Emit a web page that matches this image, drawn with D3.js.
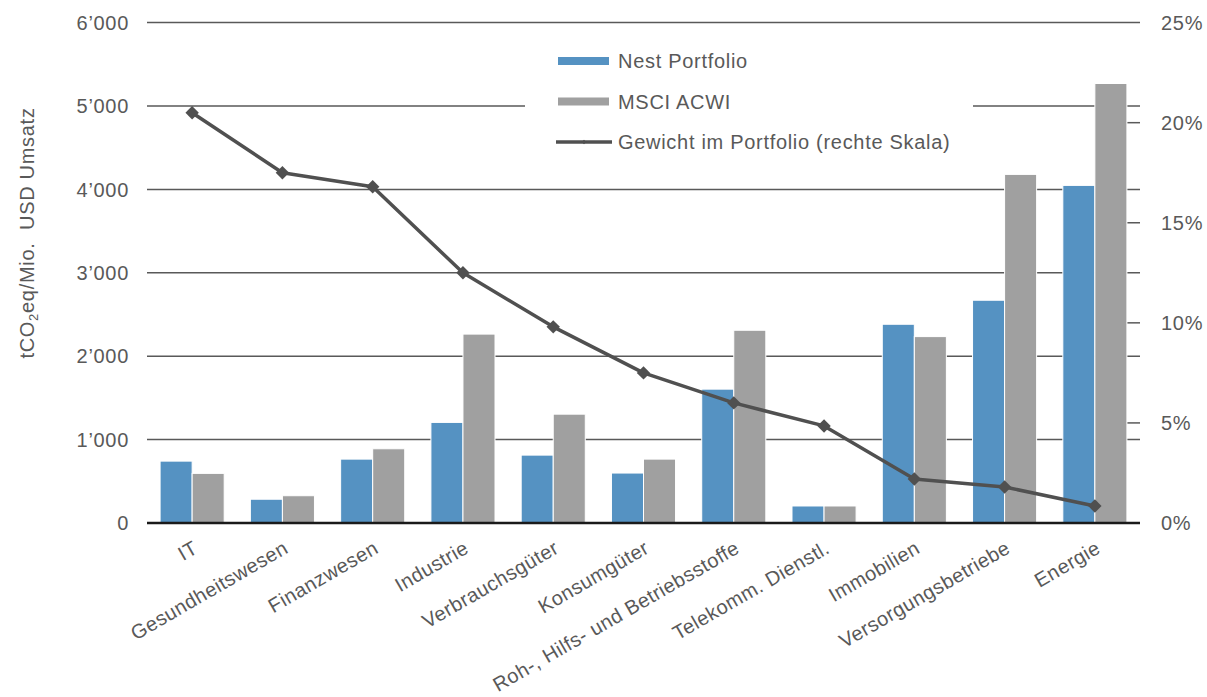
<!DOCTYPE html>
<html>
<head>
<meta charset="utf-8">
<script src="https://cdn.jsdelivr.net/npm/d3@7"></script>
<style>
  body { margin: 0; background: #fff; }
  text { font-family: 'Liberation Sans', Arial, sans-serif; fill: #595959; letter-spacing: 0.7px; }
  text.xlabel { letter-spacing: 0.45px; }
</style>
</head>
<body>
<div id="chart"></div>
<script>
const categories = ['IT', 'Gesundheitswesen', 'Finanzwesen', 'Industrie', 'Verbrauchsgüter', 'Konsumgüter',
  'Roh-, Hilfs- und Betriebsstoffe', 'Telekomm. Dienstl.', 'Immobilien', 'Versorgungsbetriebe', 'Energie']
const seriesNames = ['Nest Portfolio', 'MSCI ACWI']
const nestValues = [742, 285, 766, 1206, 814, 599, 1605, 204, 2383, 2671, 4048]
const msciValues = [595, 327, 890, 2265, 1305, 766, 2311, 204, 2235, 4180, 5270]
const weightValues = [20.5, 17.5, 16.8, 12.5, 9.8, 7.5, 6.0, 4.85, 2.2, 1.8, 0.85]
const leftTicks = [0, 1000, 2000, 3000, 4000, 5000, 6000]
const rightTicks = [0, 5, 10, 15, 20, 25]
const lineName = 'Gewicht im Portfolio (rechte Skala)'

const margin = { top: 22.6, right: 67, bottom: 174, left: 147 }
const width = 1207 - margin.left - margin.right
const height = 697 - margin.top - margin.bottom

const colors = { 'Nest Portfolio': '#5592c2', 'MSCI ACWI': '#a0a0a0' }

const svg = d3
  .select('#chart')
  .append('svg')
  .attr('width', 1207)
  .attr('height', 697)
  .append('g')
  .attr('transform', 'translate(' + margin.left + ',' + margin.top + ')')

const xPositionScale = d3
  .scaleBand()
  .domain(categories)
  .range([0, width])
  .paddingInner(0.29)
  .paddingOuter(0.145)

const xSeriesScale = d3
  .scaleBand()
  .domain(seriesNames)
  .range([0, xPositionScale.bandwidth()])

const yPositionScale = d3.scaleLinear().domain([0, 6000]).range([height, 0])
const yRightScale = d3.scaleLinear().domain([0, 25]).range([height, 0])

const fmt = d3.formatLocale({ decimal: '.', thousands: '\u2019', grouping: [3], currency: ['', ''] }).format(',')

const center = d => xPositionScale(d) + xPositionScale.bandwidth() / 2

// gridlines
svg
  .selectAll('.grid')
  .data(leftTicks.filter(d => d > 0))
  .enter()
  .append('line')
  .attr('class', 'grid')
  .attr('x1', 0)
  .attr('x2', width)
  .attr('y1', d => yPositionScale(d))
  .attr('y2', d => yPositionScale(d))
  .attr('stroke', '#595959')
  .attr('stroke-width', 1.5)

// right axis ticks
svg
  .selectAll('.rtick')
  .data(rightTicks.filter(d => d > 0 && d < 25))
  .enter()
  .append('line')
  .attr('class', 'rtick')
  .attr('x1', width - 13)
  .attr('x2', width)
  .attr('y1', d => yRightScale(d))
  .attr('y2', d => yRightScale(d))
  .attr('stroke', '#595959')
  .attr('stroke-width', 1.5)

// legend background
svg
  .append('rect')
  .attr('x', 525 - margin.left)
  .attr('y', 38 - margin.top)
  .attr('width', 448)
  .attr('height', 122)
  .attr('fill', '#fff')

// bars
const rows = categories.map((c, i) => ({ category: c, values: [nestValues[i], msciValues[i]] }))

svg
  .selectAll('.group')
  .data(rows)
  .enter()
  .append('g')
  .attr('class', 'group')
  .attr('transform', d => 'translate(' + xPositionScale(d.category) + ',0)')
  .selectAll('rect')
  .data(d => d.values.map((v, i) => ({ name: seriesNames[i], value: v })))
  .enter()
  .append('rect')
  .attr('x', d => xSeriesScale(d.name))
  .attr('width', xSeriesScale.bandwidth())
  .attr('y', d => yPositionScale(d.value))
  .attr('height', d => height - yPositionScale(d.value))
  .attr('fill', d => colors[d.name])
  .attr('stroke', '#fff')
  .attr('stroke-width', 1)

// zero line
svg
  .append('line')
  .attr('x1', 0)
  .attr('x2', width)
  .attr('y1', height)
  .attr('y2', height)
  .attr('stroke', '#1a1a1a')
  .attr('stroke-width', 2.5)

// weight line
const line = d3
  .line()
  .x((d, i) => center(categories[i]))
  .y(d => yRightScale(d))

svg
  .append('path')
  .datum(weightValues)
  .attr('d', line)
  .attr('fill', 'none')
  .attr('stroke', '#505050')
  .attr('stroke-width', 3.5)
  .attr('stroke-linejoin', 'round')

svg
  .selectAll('.marker')
  .data(weightValues)
  .enter()
  .append('path')
  .attr('class', 'marker')
  .attr('d', d3.symbol().type(d3.symbolSquare).size(90))
  .attr('transform', (d, i) => 'translate(' + center(categories[i]) + ',' + yRightScale(d) + ') rotate(45)')
  .attr('fill', '#505050')

// left tick labels
svg
  .selectAll('.ylabel')
  .data(leftTicks)
  .enter()
  .append('text')
  .attr('class', 'ylabel')
  .attr('x', -18)
  .attr('y', d => yPositionScale(d))
  .attr('dy', '0.36em')
  .attr('text-anchor', 'end')
  .attr('font-size', 20)
  .text(d => fmt(d))

// right tick labels
svg
  .selectAll('.rlabel')
  .data(rightTicks)
  .enter()
  .append('text')
  .attr('class', 'rlabel')
  .attr('x', width + 21)
  .attr('y', d => yRightScale(d))
  .attr('dy', '0.36em')
  .attr('font-size', 20)
  .text(d => d + '%')

// category labels
svg
  .selectAll('.xlabel')
  .data(categories)
  .enter()
  .append('text')
  .attr('class', 'xlabel')
  .attr('text-anchor', 'end')
  .attr('font-size', 20)
  .attr('transform', d => 'translate(' + (center(d) + 7) + ',' + (height + 29) + ') rotate(-30)')
  .text(d => d)

// y title
const title = svg
  .append('text')
  .attr('text-anchor', 'middle')
  .attr('font-size', 20)
  .attr('transform', 'translate(' + (34 - margin.left) + ',' + (233 - margin.top) + ') rotate(-90)')
  .style('white-space', 'pre')
title.append('tspan').text('tCO')
title.append('tspan').attr('font-size', 13).attr('dy', 4).text('2')
title.append('tspan').attr('dy', -4).text('eq/Mio.  USD Umsatz')

// legend
const legend = svg.append('g').attr('transform', 'translate(' + (558 - margin.left) + ',' + (61 - margin.top) + ')')

seriesNames.forEach((name, i) => {
  legend
    .append('rect')
    .attr('x', 0)
    .attr('y', i * 40.5 - 4)
    .attr('width', 51)
    .attr('height', 8)
    .attr('fill', colors[name])
  legend
    .append('text')
    .attr('x', 60)
    .attr('y', i * 40.5)
    .attr('dy', '0.36em')
    .attr('font-size', 20)
    .text(name)
})

legend
  .append('line')
  .attr('x1', -2)
  .attr('x2', 54)
  .attr('y1', 81)
  .attr('y2', 81)
  .attr('stroke', '#505050')
  .attr('stroke-width', 3.5)
legend
  .append('path')
  .attr('d', d3.symbol().type(d3.symbolSquare).size(10))
  .attr('transform', 'translate(26,81) rotate(45)')
  .attr('fill', '#505050')
legend
  .append('text')
  .attr('x', 60)
  .attr('y', 81)
  .attr('dy', '0.36em')
  .attr('font-size', 20)
  .text(lineName)
</script>
</body>
</html>
